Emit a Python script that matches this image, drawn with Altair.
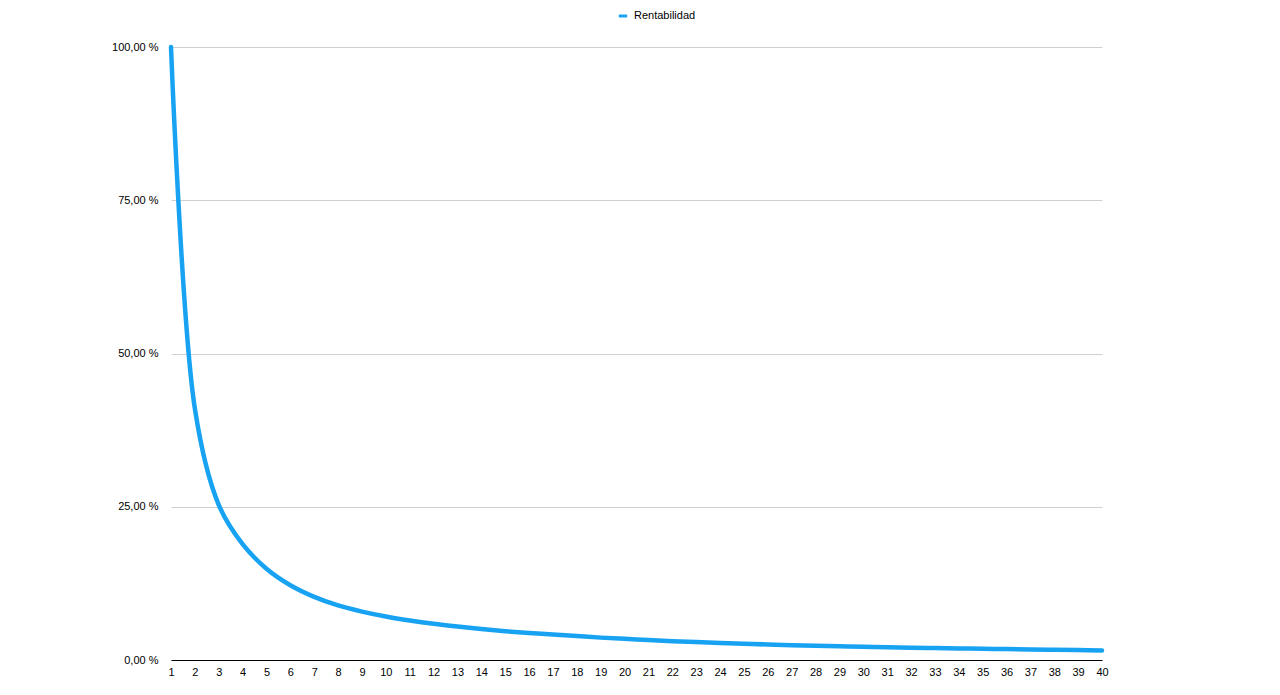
import altair as alt
import pandas as pd

years = list(range(1, 41))
rentabilidad = [100, 41, 25.3, 18.9, 14.9, 12.2, 10.3, 8.9, 7.9, 7.1,
                6.45, 5.9, 5.45, 5.05, 4.7, 4.4, 4.15, 3.9, 3.65, 3.45,
                3.25, 3.07, 2.92, 2.78, 2.65, 2.53, 2.42, 2.32, 2.23, 2.15,
                2.08, 2.01, 1.95, 1.89, 1.83, 1.78, 1.72, 1.67, 1.62, 1.57]
series_name = "Rentabilidad"
y_ticks = [0, 25, 50, 75, 100]

df = pd.DataFrame({"x": years, "y": rentabilidad, "serie": [series_name] * len(years)})

FONT = "Liberation Sans"

chart = alt.Chart(df).mark_line(
    interpolate="catmull-rom", strokeWidth=4.5, strokeCap="round", strokeJoin="round"
).encode(
    x=alt.X("x:Q", scale=alt.Scale(domain=[1, 40], nice=False, zero=False),
            axis=alt.Axis(values=years, title=None, grid=False, ticks=False, tickSize=0,
                          domainColor="#000000", domainWidth=1, labelPadding=6,
                          labelFontSize=11, labelColor="#000000", labelFont=FONT,
                          labelFlush=False)),
    y=alt.Y("y:Q", scale=alt.Scale(domain=[0, 100], nice=False),
            axis=alt.Axis(values=y_ticks, title=None, domain=False, ticks=False, tickSize=0,
                          gridColor="#d0d0d0", gridWidth=1, labelPadding=13,
                          labelFontSize=11, labelColor="#000000", labelFont=FONT,
                          labelExpr="replace(format(datum.value, '.2f'), '.', ',') + ' %'")),
    color=alt.Color("serie:N", scale=alt.Scale(domain=[series_name], range=["#17a2f2"]),
                    legend=alt.Legend(title=None, orient="none", legendX=446, legendY=-37,
                                      symbolType="stroke", symbolSize=70, symbolStrokeWidth=3,
                                      labelFontSize=11, labelFont=FONT, labelColor="#000000",
                                      labelOffset=5))
).properties(
    width=931, height=613,
    background="white",
    autosize=alt.AutoSizeParams(type="none"),
    padding={"left": 163, "top": 39, "right": 10, "bottom": 30}
).configure_view(strokeWidth=0)

chart.save("out.html", embed_options={"renderer": "svg", "actions": False})
